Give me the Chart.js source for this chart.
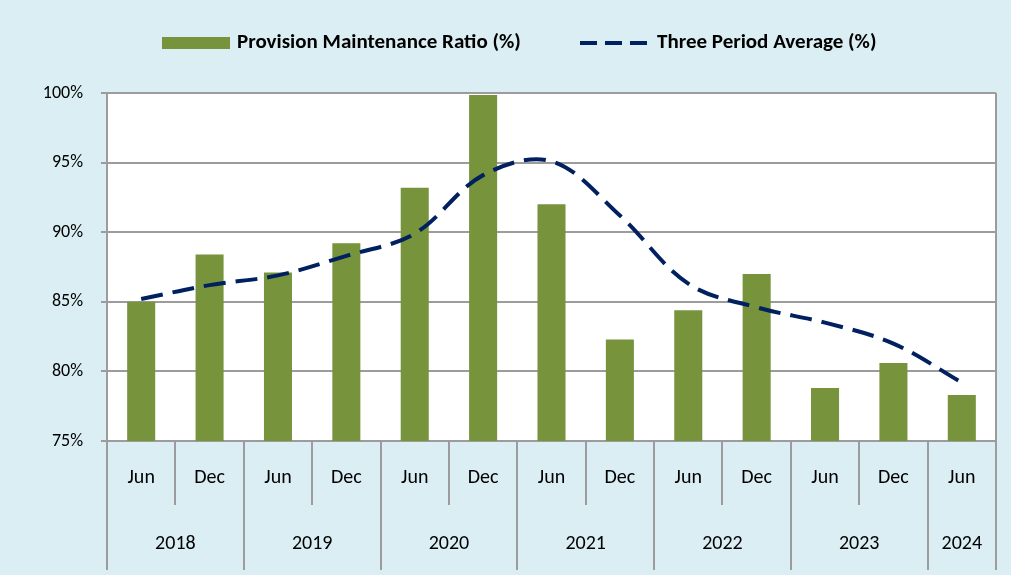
<!DOCTYPE html>
<html><head><meta charset="utf-8">
<script src="https://cdn.jsdelivr.net/npm/chart.js@4.4.1/dist/chart.umd.min.js"></script>
<style>html,body{margin:0;padding:0;background:#DAEEF3;}#wrap{width:1011px;height:575px;position:relative}</style>
</head><body><div id="wrap"><canvas id="c" width="1011" height="575"></canvas></div>
<script>
const months = ['Jun','Dec','Jun','Dec','Jun','Dec','Jun','Dec','Jun','Dec','Jun','Dec','Jun'];
const years = ['2018','2018','2019','2019','2020','2020','2021','2021','2022','2022','2023','2023','2024'];
const provisionRatio = [85.0, 88.4, 87.1, 89.2, 93.2, 99.85, 92.0, 82.3, 84.4, 87.0, 78.8, 80.6, 78.3];
const threePeriodAvg = [85.2, 86.2, 86.9, 88.3, 89.9, 94.1, 95.1, 91.2, 86.3, 84.6, 83.5, 82.0, 79.2];
const yTicks = [75, 80, 85, 90, 95, 100];
const seriesNames = ['Provision Maintenance Ratio (%)', 'Three Period Average (%)'];

const BG = '#DAEEF3', BAR = '#77933C', LINE = '#002060', GRID = '#9C9C9C';
const FONT = 'Carlito, Lato, sans-serif';

const decor = {
  id: 'decor',
  beforeDraw(chart) {
    const {ctx, chartArea: a} = chart;
    ctx.save();
    ctx.fillStyle = BG;
    ctx.fillRect(0, 0, chart.width, chart.height);
    ctx.fillStyle = '#FFFFFF';
    ctx.fillRect(a.left, a.top, a.right - a.left, a.bottom - a.top);
    ctx.restore();
  },
  afterDraw(chart) {
    const {ctx, chartArea: a} = chart;
    const xs = chart.scales.x;
    ctx.save();
    ctx.strokeStyle = GRID;
    ctx.lineWidth = 2;
    const bottomAll = 570, bottomMonth = 505;
    const n = months.length;
    const edge = i => {
      if (i === 0) return xs.left;
      if (i === n) return xs.right;
      return (xs.getPixelForValue(i - 1) + xs.getPixelForValue(i)) / 2;
    };
    ctx.beginPath();
    ctx.moveTo(a.right, a.top); ctx.lineTo(a.right, a.bottom);
    ctx.stroke();
    for (let i = 0; i <= n; i++) {
      const yearBoundary = i === 0 || i === n || years[i] !== years[i - 1];
      const x = Math.round(edge(i));
      ctx.beginPath();
      ctx.moveTo(x, a.bottom);
      ctx.lineTo(x, yearBoundary ? bottomAll : bottomMonth);
      ctx.stroke();
    }
    ctx.fillStyle = '#000';
    ctx.textAlign = 'center';
    ctx.textBaseline = 'middle';
    ctx.font = '20px ' + FONT;
    for (let i = 0; i < n; i++) ctx.fillText(months[i], xs.getPixelForValue(i), 478);
    let s = 0;
    for (let i = 1; i <= n; i++) {
      if (i === n || years[i] !== years[s]) {
        ctx.fillText(years[s], (edge(s) + edge(i)) / 2, 544);
        s = i;
      }
    }
    ctx.font = 'bold 21px ' + FONT;
    ctx.textAlign = 'left';
    ctx.fillStyle = BAR;
    ctx.fillRect(162, 37, 68, 12);
    ctx.fillStyle = '#000';
    ctx.fillText(seriesNames[0], 237, 43);
    ctx.strokeStyle = LINE;
    ctx.lineWidth = 4;
    ctx.setLineDash([17, 8]);
    ctx.beginPath(); ctx.moveTo(580, 43); ctx.lineTo(647, 43); ctx.stroke();
    ctx.setLineDash([]);
    ctx.fillText(seriesNames[1], 657, 43);
    ctx.restore();
  }
};

new Chart(document.getElementById('c'), {
  data: {
    labels: months.map((m, i) => m + ' ' + years[i]),
    datasets: [
      { type: 'line', label: seriesNames[1], data: threePeriodAvg, borderColor: LINE, borderWidth: 4,
        borderDash: [22, 10], tension: 0.35, pointRadius: 0, fill: false, order: 0 },
      { type: 'bar', label: seriesNames[0], data: provisionRatio, backgroundColor: BAR,
        barPercentage: 0.41, categoryPercentage: 1, order: 1 }
    ]
  },
  plugins: [decor],
  options: {
    responsive: false, animation: false, devicePixelRatio: 1,
    layout: { padding: { top: 93, right: 15, left: 0, bottom: 0 } },
    plugins: { legend: { display: false }, tooltip: { enabled: false } },
    scales: {
      x: {
        offset: true,
        grid: { display: false }, border: { display: false },
        ticks: { display: false },
        afterFit(s) { s.height = 134; }
      },
      y: {
        min: 75, max: 100,
        afterBuildTicks(s) { s.ticks = yTicks.map(v => ({ value: v })); },
        afterFit(s) { s.width = 107; },
        grid: { color: GRID, lineWidth: 2, tickLength: 6 },
        border: { color: GRID, width: 2 },
        ticks: { color: '#000', font: { family: FONT, size: 18 }, padding: 18, callback: v => v + '%' }
      }
    }
  }
});
</script></body></html>
